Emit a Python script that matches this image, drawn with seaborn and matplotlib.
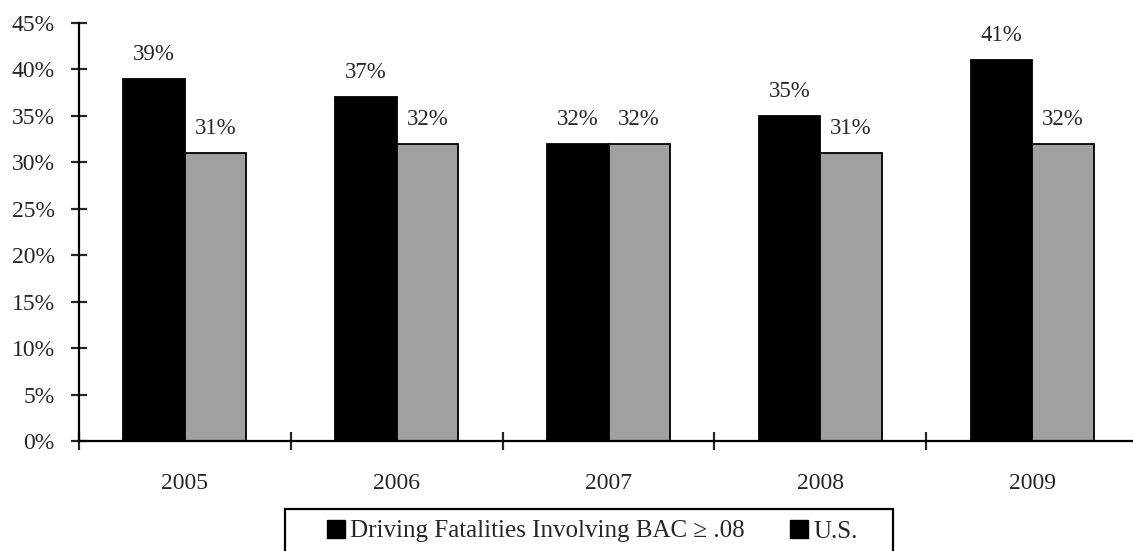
import pandas as pd
import seaborn as sns
import matplotlib.pyplot as plt
from matplotlib.lines import Line2D
from matplotlib.patches import Rectangle

years = ['2005', '2006', '2007', '2008', '2009']
bac_share = [39, 37, 32, 35, 41]
us_share = [31, 32, 32, 31, 32]
series_names = ['Driving Fatalities Involving BAC \u2265 .08', 'U.S.']

data = pd.DataFrame({
    'year': years * 2,
    'value': bac_share + us_share,
    'series': [series_names[0]] * len(years) + [series_names[1]] * len(years),
})

sns.set_style('white')
plt.rcParams['font.family'] = ['Liberation Serif', 'DejaVu Serif']

W, H = 1133, 551
fig = plt.figure(figsize=(W / 100, H / 100), dpi=100)
# axes: y axis at x=79px, 0% at y=441px, 45% at y=23px, 212px per year
ax = fig.add_axes([79 / W, 1 - 441 / H, (1138 - 79) / W, (441 - 23) / H])

sns.barplot(data=data, x='year', y='value', hue='series',
            palette=['#000000', '#a0a0a0'], width=0.58, gap=0,
            edgecolor='black', linewidth=1.3, saturation=1, ax=ax, legend=False)

for cont in ax.containers:
    ax.bar_label(cont, fmt='%d%%', padding=10, fontsize=16.5)

ax.set_xlim(-0.5, 4.5)
ax.set_ylim(0, 45)
ax.set_yticks(range(0, 50, 5))
ax.set_yticklabels([f'{v}%' for v in range(0, 50, 5)], fontsize=17)
ax.set_xticks(range(len(years)))
ax.set_xticklabels(years, fontsize=17)
ax.set_xticks([i + 0.5 for i in range(-1, len(years))], minor=True)
ax.tick_params(axis='x', which='major', bottom=True, length=0, pad=23)
ax.tick_params(axis='x', which='minor', bottom=True, direction='inout', length=13, width=1.6)
ax.tick_params(axis='y', left=True, direction='inout', length=11, width=1.6, pad=12)
ax.set_xlabel('')
ax.set_ylabel('')

for side in ['top', 'right']:
    ax.spines[side].set_visible(False)
for side in ['left', 'bottom']:
    ax.spines[side].set_color('black')
    ax.spines[side].set_linewidth(1.6)

# legend frame, open at the bottom edge of the picture
fig.patches.append(Rectangle((285 / W, -0.02), (893 - 285) / W, 0.02 + 1 - 509 / H,
                             transform=fig.transFigure, fill=False,
                             edgecolor='black', linewidth=1.6))

handles = [Line2D([], [], marker='s', color='black', linestyle='', markersize=12.5)
           for _ in series_names]
fig.legend(handles, series_names, loc='upper left', bbox_to_anchor=(326 / W, 1 - 520 / H),
           ncol=2, frameon=False, fontsize=18, borderpad=0, borderaxespad=0,
           handletextpad=0.15, columnspacing=1.8, handlelength=0.8)

fig.savefig('out.png', dpi=100)
